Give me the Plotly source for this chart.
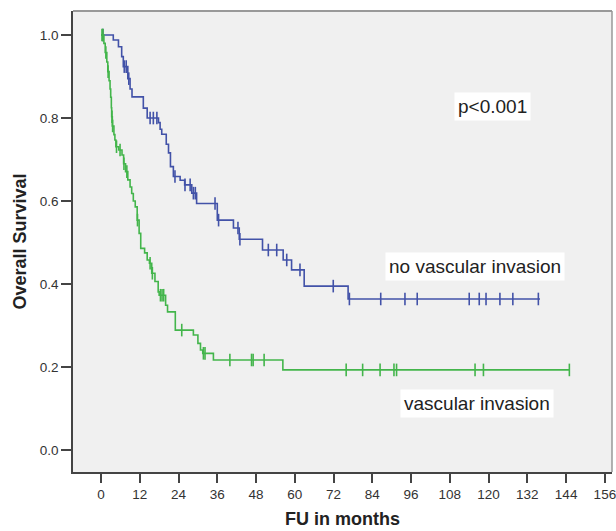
import numpy as np
import plotly.graph_objects as go

# ---- data: no vascular invasion (blue) ----
no_vi_time = [0, 3.8, 5.4, 6.4, 6.9, 8.3, 9.0, 9.6, 13.1, 14.3, 17.8, 18.3, 18.8, 20.2,
              20.9, 21.5, 22.4, 24.5, 25.9, 28.1, 29.6, 36.0, 41.0, 42.8, 50.0, 56.4,
              59.0, 62.9, 76.5]
no_vi_surv = [1.0, 0.988, 0.972, 0.948, 0.924, 0.895, 0.870, 0.851, 0.824, 0.800, 0.789,
              0.773, 0.761, 0.737, 0.716, 0.683, 0.659, 0.650, 0.639, 0.619, 0.594, 0.554,
              0.535, 0.508, 0.482, 0.458, 0.434, 0.395, 0.364]
no_vi_end = 135.9
no_vi_cens = [0.6, 7.2, 7.8, 8.6, 15.2, 16.2, 17.3, 22.9, 26.0, 27.6, 28.6, 29.2, 35.3,
              36.4, 42.4, 43.0, 51.8, 54.4, 57.5, 61.6, 71.9, 76.9, 86.6, 94.1, 97.9,
              114.0, 117.1, 119.2, 123.5, 127.5, 135.4]

# ---- data: vascular invasion (green) ----
vi_time = [0, 0.9, 1.3, 1.8, 2.1, 2.5, 2.8, 3.0, 3.2, 3.3, 3.5, 4.0, 4.3, 4.6, 5.5, 6.5,
           7.0, 7.6, 8.3, 9.0, 9.5, 10.0, 10.6, 11.2, 11.8, 12.3, 13.5, 14.3, 15.0, 15.7,
           16.7, 17.7, 18.0, 20.0, 20.6, 23.0, 28.6, 30.0, 30.8, 31.5, 34.8, 56.3]
vi_surv = [1.0, 0.98, 0.958, 0.935, 0.912, 0.89, 0.87, 0.85, 0.825, 0.803, 0.781, 0.76,
           0.747, 0.731, 0.723, 0.711, 0.69, 0.671, 0.651, 0.634, 0.618, 0.600, 0.586,
           0.554, 0.522, 0.486, 0.475, 0.458, 0.450, 0.426, 0.406, 0.381, 0.373, 0.349,
           0.333, 0.289, 0.277, 0.257, 0.241, 0.233, 0.217, 0.193]
vi_end = 145.2
vi_cens = [0.3, 0.6, 1.5, 2.2, 3.4, 3.6, 4.8, 5.9, 7.1, 8.0, 11.3, 15.2, 15.9, 18.4, 18.9,
           19.4, 25.0, 31.7, 32.2, 39.9, 46.6, 47.1, 50.5, 75.9, 81.0, 86.4, 90.7, 91.5,
           115.8, 118.4, 145.0]

x_ticks = list(range(0, 157, 12))
y_ticks = [0.0, 0.2, 0.4, 0.6, 0.8, 1.0]

BLUE = "#4252a8"
GREEN = "#43b54b"


def step_at(times, surv, t):
    idx = np.searchsorted(np.array(times), np.array(t), side="right") - 1
    return list(np.array(surv)[idx])


fig = go.Figure()
for times, surv, end, cens, col in [
    (no_vi_time, no_vi_surv, no_vi_end, no_vi_cens, BLUE),
    (vi_time, vi_surv, vi_end, vi_cens, GREEN),
]:
    fig.add_trace(go.Scatter(x=times + [end], y=surv + [surv[-1]], mode="lines",
                             line=dict(color=col, width=1.6, shape="hv"),
                             hoverinfo="skip", showlegend=False))
    fig.add_trace(go.Scatter(x=cens, y=step_at(times, surv, cens), mode="markers",
                             marker=dict(symbol="line-ns", size=9,
                                         line=dict(color=col, width=1.6)),
                             showlegend=False))

ann_font = dict(family="Liberation Sans, Arial, sans-serif", size=19, color="#222")
for txt, x, y in [("p<0.001", 121.3, 0.827), ("no vascular invasion", 115.8, 0.442),
                  ("vascular invasion", 116.4, 0.111)]:
    fig.add_annotation(x=x, y=y, xref="x", yref="y", text=txt, showarrow=False,
                       font=ann_font, bgcolor="white", borderpad=3)

# top/right frame
fig.add_shape(type="line", xref="paper", yref="paper", x0=0, x1=1, y0=1, y1=1,
              line=dict(color="#999", width=2))
fig.add_shape(type="line", xref="paper", yref="paper", x0=1, x1=1, y0=0, y1=1,
              line=dict(color="#999", width=1.5))

tick_font = dict(family="Liberation Sans, Arial, sans-serif", size=13.5, color="#333")
title_font = dict(family="Liberation Sans, Arial, sans-serif", size=18, color="#222")

fig.update_layout(
    width=616, height=531,
    margin=dict(l=73, r=4, t=11, b=59),
    paper_bgcolor="white", plot_bgcolor="#f0f0f0",
    xaxis=dict(range=[-8.67, 158.2], tickvals=x_ticks, ticktext=[str(v) for v in x_ticks],
               showgrid=False, zeroline=False, showline=True, linecolor="#444", linewidth=1.6,
               ticks="outside", ticklen=9, tickwidth=1.5, tickcolor="#444",
               tickfont=tick_font, ticklabeloverflow="allow", automargin=False,
               title=dict(text="<b>FU in months</b>", font=title_font, standoff=11)),
    yaxis=dict(range=[-0.053, 1.058], tickvals=y_ticks, ticktext=[f"{v:.1f}" for v in y_ticks],
               showgrid=False, zeroline=False, showline=True, linecolor="#444", linewidth=1.6,
               ticks="outside", ticklen=10, tickwidth=1.5, tickcolor="#444",
               tickfont=tick_font, automargin=False,
               title=dict(text="<b>Overall Survival</b>", font=title_font, standoff=8)),
)

fig.write_html("out.html")
